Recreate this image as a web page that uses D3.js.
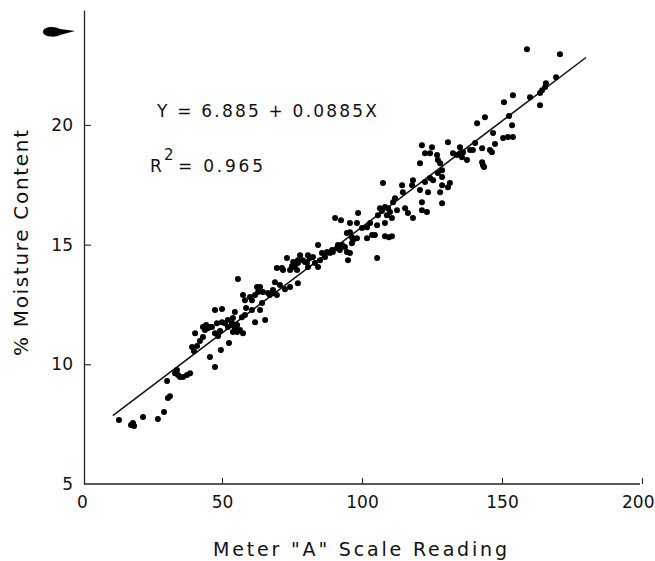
<!DOCTYPE html>
<html>
<head>
<meta charset="utf-8">
<script src="https://cdn.jsdelivr.net/npm/d3@7"></script>
<style>
  html, body { margin: 0; padding: 0; background: #fff; }
  svg { display: block; }
  text { font-family: "DejaVu Sans", "Liberation Sans", sans-serif; fill: #111; }
</style>
</head>
<body>
<svg id="chart" width="655" height="561"></svg>
<script>
// ---- Data ----
const meterReading = [
  13.2,17.5,18.2,18.6,21.8,27.1,29.3,30.7,31.4,30.4,33.2,33.9,34.3,35.0,36.1,37.5,38.6,
  39.3,40.0,40.4,41.1,42.1,43.2,43.9,44.3,45.0,46.4,47.5,48.6,45.7,47.5,49.6,52.5,48.2,50.0,51.1,52.1,53.6,53.9,55.4,54.6,47.5,50.0,53.9,55.4,56.4,57.5,57.1,58.2,55.7,58.6,60.7,61.8,65.4,63.6,64.3,60.7,60.0,61.8,62.9,62.5,57.5,58.2,43.2,45.7,54.6,52.1,53.6,49.3,
  66.4,68.2,69.6,68.9,70.7,72.5,73.2,69.6,71.4,75.4,76.8,77.1,77.9,79.6,80.7,77.1,74.3,68.2,71.8,74.3,75.0,76.1,75.4,77.1,63.6,64.6,67.1,
  78.9,80.4,81.4,80.7,82.5,83.2,84.3,85.0,85.7,84.3,86.8,87.5,88.6,89.3,89.6,91.1,91.4,92.1,92.9,93.9,94.6,95.7,95.0,94.6,95.7,96.4,96.8,98.2,96.4,90.4,92.5,95.7,98.6,98.2,
  101.8,103.6,104.6,101.8,102.9,105.4,105.7,106.4,107.1,108.2,109.3,110.0,108.9,110.7,105.4,108.2,108.2,109.6,110.7,100.0,111.1,111.8,112.5,107.5,114.6,114.3,117.9,118.2,115.4,116.4,118.2,
  121.4,121.4,123.2,120.7,123.6,122.5,124.3,125.4,120.7,124.3,122.5,121.4,125.0,126.8,127.1,127.9,128.6,127.1,128.6,128.6,130.7,131.4,127.9,128.6,130.7,132.5,133.9,135.0,135.7,137.5,135.0,136.1,138.6,140.4,139.6,141.1,142.9,143.2,142.9,143.6,
  158.9,170.7,169.3,165.7,165.4,164.3,163.6,160.0,163.6,153.9,150.7,152.5,153.6,143.9,146.8,150.4,152.1,153.9,147.5,145.7,146.4
];
const moistureContent = [
  7.67,7.46,7.55,7.42,7.80,7.71,8.01,8.59,8.67,9.30,9.63,9.76,9.55,9.47,9.47,9.55,9.63,
  10.72,10.55,11.30,10.76,10.97,11.14,11.43,11.64,11.51,11.56,11.30,11.18,10.30,9.89,10.60,10.89,11.72,11.76,11.72,11.85,11.72,11.93,11.64,11.51,12.27,12.31,11.35,11.35,11.43,11.30,11.97,12.06,13.56,12.35,12.27,11.76,11.85,12.27,12.56,12.68,12.81,12.89,13.02,13.23,12.89,12.68,11.56,11.56,12.18,11.56,11.64,11.39,
  12.98,12.98,12.89,13.43,13.31,13.14,14.44,14.02,14.02,14.06,13.94,14.23,14.56,14.27,14.06,13.39,13.23,13.10,13.94,13.94,14.10,14.14,14.27,14.35,13.23,13.02,12.89,
  14.35,14.27,14.44,14.56,14.48,14.23,14.06,14.35,14.65,14.98,14.48,14.69,14.65,14.77,14.69,14.85,14.98,14.77,14.98,14.90,14.69,14.65,14.35,15.48,15.52,15.31,15.19,15.27,15.06,16.11,16.02,15.90,16.32,15.90,
  15.27,15.40,15.40,15.73,15.90,14.44,16.23,16.52,16.40,16.57,16.52,16.36,16.23,16.11,15.81,15.90,15.35,15.31,15.35,15.69,16.77,16.94,16.44,17.57,17.19,17.48,17.48,17.69,16.52,16.32,16.11,
  16.77,16.44,16.36,17.28,17.19,17.61,17.78,17.69,18.40,18.82,18.82,19.15,19.07,18.74,18.53,18.40,18.11,17.99,17.82,17.48,17.40,17.57,17.19,16.73,19.28,18.82,18.74,18.82,18.65,18.53,19.07,18.86,18.95,19.24,18.95,20.07,18.44,18.32,19.03,18.24,
  23.16,22.95,21.99,21.74,21.58,21.45,21.33,21.16,20.82,21.24,20.95,20.37,19.99,20.32,19.66,19.45,19.49,19.49,19.20,18.95,18.86
];
const xTicks = [0, 50, 100, 150, 200];
const yTicks = [5, 10, 15, 20];
const regIntercept = 6.885;
const regSlope = 0.0885;
const regRange = [11, 180];
const equationText = "Y = 6.885 + 0.0885X";
const r2Value = "= 0.965";
const xTitle = "Meter \"A\" Scale Reading";
const yTitle = "% Moisture Content";

// ---- Layout ----
const svg = d3.select("#chart");
const x = d3.scaleLinear().domain([0, 200]).range([82, 642]);
const y = d3.scaleLinear().domain([5, 24.8]).range([484, 10]);
const axisX0 = 84;

// X axis (ticks pointing inward/up)
const gx = svg.append("g")
  .attr("transform", `translate(0,${y(5)})`)
  .call(d3.axisBottom(x).tickValues(xTicks).tickSizeInner(-6).tickSizeOuter(0).tickPadding(12));
gx.select(".domain").attr("stroke", "#222").attr("stroke-width", 1.3).attr("d", `M${axisX0},0H${x(200)-2}`);
gx.selectAll(".tick line").attr("stroke", "#222").attr("stroke-width", 1.1)
  .filter(d => d === 0).remove();
gx.selectAll(".tick text").attr("font-size", 17).attr("fill", "#111")
  .attr("font-family", "DejaVu Sans, sans-serif");
// keep the last label inside the page
gx.selectAll(".tick text").filter(d => d === 200)
  .attr("text-anchor", "end").attr("x", 654 - x(200));

// Y axis (ticks pointing inward/right)
const gy = svg.append("g")
  .attr("transform", `translate(${axisX0},0)`)
  .call(d3.axisLeft(y).tickValues(yTicks).tickSizeInner(-7).tickSizeOuter(0).tickPadding(11));
gy.select(".domain").attr("stroke", "#222").attr("stroke-width", 1.3);
gy.selectAll(".tick line").attr("stroke", "#222").attr("stroke-width", 1.1)
  .filter(d => d === 5).remove();
gy.selectAll(".tick text").attr("font-size", 17).attr("fill", "#111")
  .attr("font-family", "DejaVu Sans, sans-serif");

// Regression line
svg.append("line")
  .attr("x1", x(regRange[0])).attr("y1", y(regIntercept + regSlope * regRange[0]))
  .attr("x2", x(regRange[1])).attr("y2", y(regIntercept + regSlope * regRange[1]))
  .attr("stroke", "#111").attr("stroke-width", 1.5);

// Points
const pts = meterReading.map((v, i) => ({ m: v, c: moistureContent[i] }));
svg.append("g").selectAll("circle").data(pts).join("circle")
  .attr("cx", d => x(d.m)).attr("cy", d => y(d.c)).attr("r", 3).attr("fill", "#000");

// Equation annotation
svg.append("text").attr("x", 157).attr("y", 117).attr("font-size", 17)
  .attr("textLength", 220).attr("lengthAdjust", "spacing").text(equationText);
svg.append("text").attr("x", 150).attr("y", 172).attr("font-size", 17).text("R");
svg.append("text").attr("x", 164).attr("y", 160).attr("font-size", 15).text("2");
svg.append("text").attr("x", 178).attr("y", 172).attr("font-size", 17)
  .attr("textLength", 85).attr("lengthAdjust", "spacing").text(r2Value);

// Axis titles
svg.append("text").attr("x", 213).attr("y", 556).attr("font-size", 19)
  .attr("textLength", 294).attr("lengthAdjust", "spacing").text(xTitle);
svg.append("text").attr("transform", "translate(28,356) rotate(-90)").attr("font-size", 20)
  .attr("textLength", 226).attr("lengthAdjust", "spacing").text(yTitle);

// Scan artifact mark at top-left of the axis
svg.append("path")
  .attr("d", "M43,32 C43,26 55,26 60,29 L75,31 L60,35 C55,38 43,37 43,32 Z")
  .attr("fill", "#000");
</script>
</body>
</html>
